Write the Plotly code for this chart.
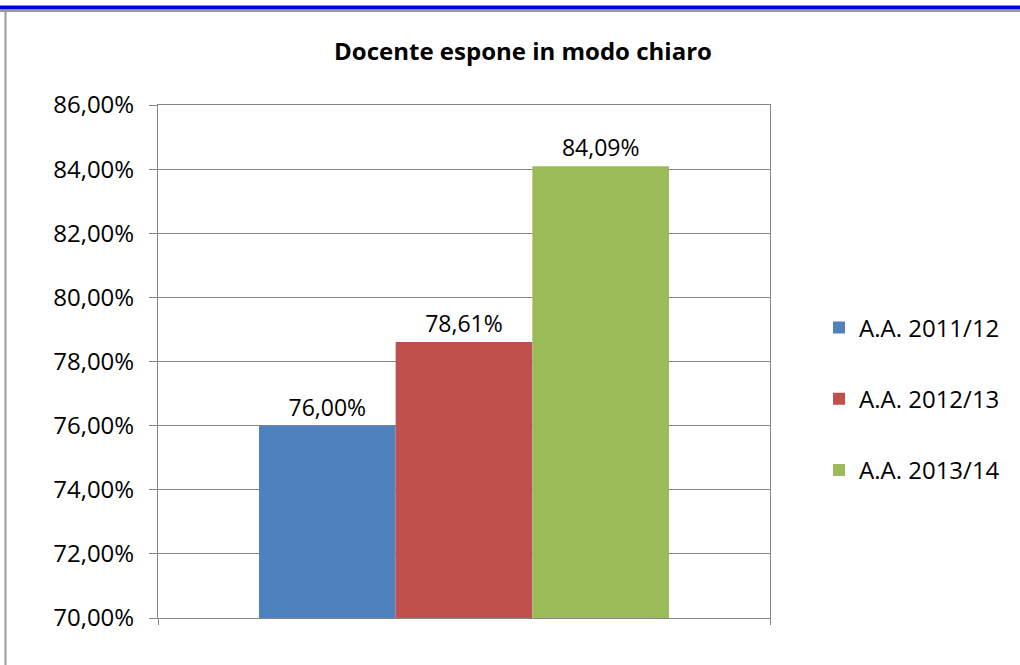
import plotly.graph_objects as go

categories = ["Docente espone in modo chiaro"]
series_names = ["A.A. 2011/12", "A.A. 2012/13", "A.A. 2013/14"]
series_values = [76.00, 78.61, 84.09]
series_colors = ["#4F81BD", "#C0504D", "#9BBB59"]
tick_values = [70, 72, 74, 76, 78, 80, 82, 84, 86]
tick_labels = ["70,00%", "72,00%", "74,00%", "76,00%", "78,00%", "80,00%", "82,00%", "84,00%", "86,00%"]

FONT = "'Open Sans', Lato, sans-serif"
W, H = 1020, 665
L, R, T, B = 158, 250, 105, 47
pw, ph = W - L - R, H - T - B

def px(x):
    return (x - L) / pw

def py(y):
    return (H - B - y) / ph

fig = go.Figure()
for name, v, c in zip(series_names, series_values, series_colors):
    fig.add_trace(go.Bar(
        x=[0], y=[v], name=name, legendgroup=name,
        marker=dict(color=c, line=dict(width=0)),
        text=[f"{v:.2f}%".replace(".", ",")],
        textposition="outside", cliponaxis=False,
        textfont=dict(family=FONT, size=23, color="#000000"),
    ))

fig.update_layout(
    width=W, height=H,
    margin=dict(l=L, r=R, t=T, b=B),
    paper_bgcolor="white", plot_bgcolor="white",
    barmode="group", bargap=0.33, bargroupgap=0,
    font=dict(family=FONT, size=23, color="#000000"),
    title=dict(text="<b>" + categories[0] + "</b>", xref="container", yref="container",
               x=523 / W, y=1 - 52 / H,
               xanchor="center", yanchor="middle", font=dict(family=FONT, size=24, color="#000000")),
    legend=dict(x=px(819), y=py(399), xanchor="left", yanchor="middle",
                tracegroupgap=37, font=dict(family=FONT, size=24), bgcolor="rgba(0,0,0,0)"),
    showlegend=True,
)
fig.update_xaxes(range=[-0.5, 0.5], showticklabels=False, tickvals=[-0.5, 0.5],
                 ticks="outside", ticklen=6, tickcolor="#868686",
                 showline=True, linecolor="#868686", linewidth=1, mirror=True,
                 showgrid=False, zeroline=False)
fig.update_yaxes(range=[70, 86], tickvals=tick_values, ticktext=tick_labels,
                 ticks="outside", ticklen=8, tickcolor="#868686", ticklabelstandoff=10,
                 showline=True, linecolor="#868686", linewidth=1, mirror=True,
                 showgrid=True, gridcolor="#868686", gridwidth=1, zeroline=False,
                 tickfont=dict(family=FONT, size=24))

# outer frame: blue top bar and gray border lines
fig.add_shape(type="line", xref="paper", yref="paper", x0=px(0), x1=px(W), y0=py(11), y1=py(11),
              line=dict(color="#9a9a9a", width=2))
fig.add_shape(type="line", xref="paper", yref="paper", x0=px(0), x1=px(W), y0=py(7.5), y1=py(7.5),
              line=dict(color="#0000E0", width=4))
fig.add_shape(type="line", xref="paper", yref="paper", x0=px(5.5), x1=px(5.5), y0=py(11), y1=py(H),
              line=dict(color="#9a9a9a", width=2))

fig.write_html("out.html", config={"displayModeBar": False},
               post_script="document.body.style.margin='0px';")
